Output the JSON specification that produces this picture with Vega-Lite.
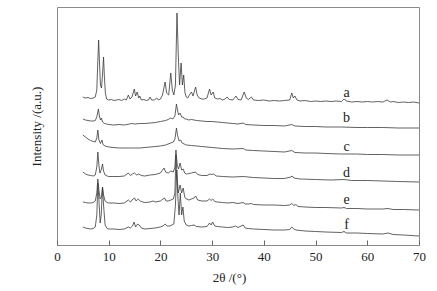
{
  "$schema": "https://vega.github.io/schema/vega-lite/v6.json",
  "width": 362,
  "height": 238,
  "autosize": "none",
  "padding": {"left": 57, "top": 7, "right": 18, "bottom": 46},
  "background": "white",
  "config": {
    "view": {"stroke": "#8a8a8a", "strokeWidth": 1},
    "font": "'Liberation Serif', 'Times New Roman', serif"
  },
  "datasets": {
    "labels": [
      {"s": "a", "x": 56, "y": 152},
      {"s": "b", "x": 56, "y": 127},
      {"s": "c", "x": 56, "y": 98},
      {"s": "d", "x": 56, "y": 72},
      {"s": "e", "x": 56, "y": 45},
      {"s": "f", "x": 56, "y": 20}
    ],
    "xrd": [
      {"s":"a","x":5.0,"y":148},{"s":"a","x":5.5,"y":147},{"s":"a","x":6.0,"y":147.5},{"s":"a","x":6.5,"y":146.5},{"s":"a","x":7.0,"y":147},{"s":"a","x":7.4,"y":148},{"s":"a","x":7.7,"y":155},{"s":"a","x":7.9,"y":185},{"s":"a","x":8.05,"y":205},{"s":"a","x":8.2,"y":185},{"s":"a","x":8.4,"y":160},{"s":"a","x":8.6,"y":157},{"s":"a","x":8.8,"y":170},{"s":"a","x":9.0,"y":188},{"s":"a","x":9.15,"y":170},{"s":"a","x":9.35,"y":152},{"s":"a","x":9.6,"y":146},{"s":"a","x":10.0,"y":145},{"s":"a","x":10.5,"y":145.5},{"s":"a","x":11.0,"y":144.5},{"s":"a","x":11.5,"y":145},{"s":"a","x":12.0,"y":145.5},{"s":"a","x":12.5,"y":144.5},{"s":"a","x":13.0,"y":146},{"s":"a","x":13.4,"y":145},{"s":"a","x":13.8,"y":150},{"s":"a","x":14.1,"y":146},{"s":"a","x":14.5,"y":148},{"s":"a","x":14.95,"y":156},{"s":"a","x":15.2,"y":149},{"s":"a","x":15.5,"y":153},{"s":"a","x":15.8,"y":147},{"s":"a","x":16.0,"y":149},{"s":"a","x":16.3,"y":145},{"s":"a","x":16.8,"y":145.5},{"s":"a","x":17.3,"y":144.5},{"s":"a","x":17.7,"y":145},{"s":"a","x":18.0,"y":148},{"s":"a","x":18.3,"y":145},{"s":"a","x":18.8,"y":145},{"s":"a","x":19.3,"y":147},{"s":"a","x":19.6,"y":145},{"s":"a","x":20.0,"y":146},{"s":"a","x":20.4,"y":150},{"s":"a","x":20.9,"y":163},{"s":"a","x":21.2,"y":152},{"s":"a","x":21.6,"y":150},{"s":"a","x":22.0,"y":172},{"s":"a","x":22.3,"y":155},{"s":"a","x":22.6,"y":150},{"s":"a","x":22.9,"y":160},{"s":"a","x":23.2,"y":232},{"s":"a","x":23.45,"y":190},{"s":"a","x":23.7,"y":160},{"s":"a","x":24.0,"y":182},{"s":"a","x":24.25,"y":160},{"s":"a","x":24.5,"y":170},{"s":"a","x":24.75,"y":152},{"s":"a","x":25.0,"y":148},{"s":"a","x":25.3,"y":147},{"s":"a","x":25.6,"y":150},{"s":"a","x":26.0,"y":153},{"s":"a","x":26.3,"y":149},{"s":"a","x":26.8,"y":158},{"s":"a","x":27.1,"y":150},{"s":"a","x":27.5,"y":147},{"s":"a","x":28.0,"y":146},{"s":"a","x":28.5,"y":146},{"s":"a","x":29.0,"y":147},{"s":"a","x":29.5,"y":156},{"s":"a","x":29.8,"y":150},{"s":"a","x":30.2,"y":153},{"s":"a","x":30.5,"y":147},{"s":"a","x":31.0,"y":146},{"s":"a","x":31.5,"y":146.5},{"s":"a","x":32.0,"y":145},{"s":"a","x":32.5,"y":146},{"s":"a","x":32.9,"y":148},{"s":"a","x":33.3,"y":145.5},{"s":"a","x":34.0,"y":145},{"s":"a","x":34.6,"y":149},{"s":"a","x":35.0,"y":145.5},{"s":"a","x":35.6,"y":145},{"s":"a","x":36.2,"y":153},{"s":"a","x":36.6,"y":147},{"s":"a","x":37.0,"y":145.5},{"s":"a","x":37.6,"y":148},{"s":"a","x":38.0,"y":145},{"s":"a","x":39,"y":144.5},{"s":"a","x":40,"y":145},{"s":"a","x":41,"y":144},{"s":"a","x":42,"y":144.5},{"s":"a","x":43,"y":144},{"s":"a","x":44,"y":144.5},{"s":"a","x":45,"y":145},{"s":"a","x":45.4,"y":152},{"s":"a","x":45.7,"y":147},{"s":"a","x":46.0,"y":149},{"s":"a","x":46.4,"y":145},{"s":"a","x":47,"y":144},{"s":"a","x":48,"y":144.5},{"s":"a","x":49,"y":143.5},{"s":"a","x":50,"y":144},{"s":"a","x":51,"y":143.5},{"s":"a","x":52,"y":144},{"s":"a","x":53,"y":143.5},{"s":"a","x":54,"y":144},{"s":"a","x":55,"y":143.5},{"s":"a","x":55.5,"y":146},{"s":"a","x":56,"y":144},{"s":"a","x":57,"y":143},{"s":"a","x":58,"y":143.5},{"s":"a","x":59,"y":143},{"s":"a","x":60,"y":143.5},{"s":"a","x":61,"y":143},{"s":"a","x":62,"y":143.5},{"s":"a","x":63,"y":143},{"s":"a","x":63.8,"y":145},{"s":"a","x":64.5,"y":143},{"s":"a","x":65,"y":143.5},{"s":"a","x":66,"y":142.5},{"s":"a","x":67,"y":143},{"s":"a","x":68,"y":142.5},{"s":"a","x":69,"y":143},{"s":"a","x":70,"y":142},

      {"s":"b","x":5.0,"y":126},{"s":"b","x":5.5,"y":125},{"s":"b","x":6.0,"y":124.5},{"s":"b","x":6.5,"y":124},{"s":"b","x":7.0,"y":124},{"s":"b","x":7.4,"y":124.5},{"s":"b","x":7.7,"y":128},{"s":"b","x":8.0,"y":136},{"s":"b","x":8.2,"y":129},{"s":"b","x":8.4,"y":125},{"s":"b","x":8.6,"y":127},{"s":"b","x":8.8,"y":123},{"s":"b","x":9.2,"y":121.5},{"s":"b","x":9.6,"y":121},{"s":"b","x":10,"y":120.5},{"s":"b","x":11,"y":120},{"s":"b","x":12,"y":120.5},{"s":"b","x":13,"y":120},{"s":"b","x":14,"y":121},{"s":"b","x":14.5,"y":121.5},{"s":"b","x":15,"y":121},{"s":"b","x":16,"y":121.5},{"s":"b","x":17,"y":121.5},{"s":"b","x":18,"y":122},{"s":"b","x":19,"y":122.5},{"s":"b","x":20,"y":123.5},{"s":"b","x":20.5,"y":124},{"s":"b","x":21,"y":124.5},{"s":"b","x":21.5,"y":125.5},{"s":"b","x":22,"y":127},{"s":"b","x":22.4,"y":126},{"s":"b","x":22.8,"y":129},{"s":"b","x":23.1,"y":141},{"s":"b","x":23.3,"y":135},{"s":"b","x":23.5,"y":130},{"s":"b","x":23.8,"y":132},{"s":"b","x":24.1,"y":128},{"s":"b","x":24.4,"y":128},{"s":"b","x":24.7,"y":126},{"s":"b","x":25.0,"y":126},{"s":"b","x":25.5,"y":125},{"s":"b","x":26,"y":125.5},{"s":"b","x":26.5,"y":125},{"s":"b","x":27,"y":124.5},{"s":"b","x":28,"y":124},{"s":"b","x":29,"y":123.5},{"s":"b","x":30,"y":123.5},{"s":"b","x":31,"y":123},{"s":"b","x":32,"y":122.5},{"s":"b","x":33,"y":122},{"s":"b","x":34,"y":121.5},{"s":"b","x":35,"y":121},{"s":"b","x":36,"y":122},{"s":"b","x":36.5,"y":120.5},{"s":"b","x":38,"y":120},{"s":"b","x":40,"y":119.5},{"s":"b","x":42,"y":119.5},{"s":"b","x":44,"y":119},{"s":"b","x":45.4,"y":120.5},{"s":"b","x":46,"y":119},{"s":"b","x":48,"y":118.5},{"s":"b","x":50,"y":118.5},{"s":"b","x":52,"y":118},{"s":"b","x":55,"y":118},{"s":"b","x":58,"y":117.5},{"s":"b","x":60,"y":117.5},{"s":"b","x":63,"y":117.5},{"s":"b","x":66,"y":117},{"s":"b","x":70,"y":117},

      {"s":"c","x":5.0,"y":110},{"s":"c","x":5.5,"y":108},{"s":"c","x":6.0,"y":106},{"s":"c","x":6.5,"y":104.5},{"s":"c","x":7.0,"y":103.5},{"s":"c","x":7.4,"y":103},{"s":"c","x":7.7,"y":107},{"s":"c","x":7.9,"y":115},{"s":"c","x":8.1,"y":105},{"s":"c","x":8.4,"y":101.5},{"s":"c","x":8.7,"y":105},{"s":"c","x":8.9,"y":100.5},{"s":"c","x":9.3,"y":99},{"s":"c","x":10,"y":98},{"s":"c","x":11,"y":97.5},{"s":"c","x":12,"y":97},{"s":"c","x":13,"y":97},{"s":"c","x":14,"y":97},{"s":"c","x":15,"y":97},{"s":"c","x":16,"y":97},{"s":"c","x":17,"y":97.5},{"s":"c","x":18,"y":98},{"s":"c","x":19,"y":98.5},{"s":"c","x":20,"y":99},{"s":"c","x":21,"y":100},{"s":"c","x":22,"y":102},{"s":"c","x":22.5,"y":103},{"s":"c","x":22.8,"y":106},{"s":"c","x":23.1,"y":117},{"s":"c","x":23.3,"y":110},{"s":"c","x":23.6,"y":104},{"s":"c","x":23.9,"y":105},{"s":"c","x":24.2,"y":102},{"s":"c","x":24.6,"y":101},{"s":"c","x":25,"y":100},{"s":"c","x":26,"y":99.5},{"s":"c","x":27,"y":99},{"s":"c","x":28,"y":98.5},{"s":"c","x":29,"y":98},{"s":"c","x":30,"y":97.5},{"s":"c","x":31,"y":97},{"s":"c","x":32,"y":96.5},{"s":"c","x":34,"y":96},{"s":"c","x":36,"y":96.5},{"s":"c","x":36.5,"y":95},{"s":"c","x":38,"y":94.5},{"s":"c","x":40,"y":94},{"s":"c","x":42,"y":93.5},{"s":"c","x":44,"y":93},{"s":"c","x":45.4,"y":94.5},{"s":"c","x":46,"y":92.5},{"s":"c","x":48,"y":92},{"s":"c","x":50,"y":92},{"s":"c","x":52,"y":91.5},{"s":"c","x":55,"y":91},{"s":"c","x":58,"y":91},{"s":"c","x":60,"y":90.5},{"s":"c","x":63,"y":90.5},{"s":"c","x":66,"y":90},{"s":"c","x":70,"y":90},

      {"s":"d","x":5.0,"y":73},{"s":"d","x":5.5,"y":71},{"s":"d","x":6,"y":70},{"s":"d","x":6.5,"y":69.5},{"s":"d","x":7.0,"y":69},{"s":"d","x":7.4,"y":70},{"s":"d","x":7.7,"y":78},{"s":"d","x":7.9,"y":93},{"s":"d","x":8.1,"y":80},{"s":"d","x":8.3,"y":72},{"s":"d","x":8.6,"y":76},{"s":"d","x":8.8,"y":81},{"s":"d","x":9.0,"y":74},{"s":"d","x":9.3,"y":70},{"s":"d","x":9.7,"y":69},{"s":"d","x":10,"y":68.5},{"s":"d","x":11,"y":68.5},{"s":"d","x":12,"y":68.5},{"s":"d","x":13,"y":69},{"s":"d","x":13.8,"y":72},{"s":"d","x":14.2,"y":69.5},{"s":"d","x":14.6,"y":71},{"s":"d","x":15,"y":72},{"s":"d","x":15.4,"y":70},{"s":"d","x":15.8,"y":71},{"s":"d","x":16.3,"y":69.5},{"s":"d","x":17,"y":69},{"s":"d","x":18,"y":70},{"s":"d","x":19,"y":70.5},{"s":"d","x":20,"y":72},{"s":"d","x":20.4,"y":75},{"s":"d","x":20.7,"y":77},{"s":"d","x":21.0,"y":73},{"s":"d","x":21.5,"y":72},{"s":"d","x":22.0,"y":74},{"s":"d","x":22.5,"y":73},{"s":"d","x":22.8,"y":78},{"s":"d","x":23.0,"y":95},{"s":"d","x":23.25,"y":80},{"s":"d","x":23.5,"y":76},{"s":"d","x":23.8,"y":82},{"s":"d","x":24.1,"y":75},{"s":"d","x":24.4,"y":76},{"s":"d","x":24.7,"y":72},{"s":"d","x":25,"y":71},{"s":"d","x":25.5,"y":71.5},{"s":"d","x":26,"y":72},{"s":"d","x":26.8,"y":73},{"s":"d","x":27.2,"y":70.5},{"s":"d","x":28,"y":69.5},{"s":"d","x":29,"y":69.5},{"s":"d","x":29.6,"y":71},{"s":"d","x":30.0,"y":70.5},{"s":"d","x":30.3,"y":71},{"s":"d","x":30.8,"y":69},{"s":"d","x":32,"y":68.5},{"s":"d","x":34,"y":68},{"s":"d","x":36,"y":68.5},{"s":"d","x":38,"y":67.5},{"s":"d","x":40,"y":67},{"s":"d","x":42,"y":66.5},{"s":"d","x":44,"y":66.5},{"s":"d","x":45.2,"y":68},{"s":"d","x":45.5,"y":69},{"s":"d","x":45.8,"y":67},{"s":"d","x":47,"y":66},{"s":"d","x":50,"y":65.5},{"s":"d","x":53,"y":65},{"s":"d","x":55.5,"y":65.5},{"s":"d","x":57,"y":64.5},{"s":"d","x":60,"y":64.5},{"s":"d","x":63,"y":64},{"s":"d","x":66,"y":63.5},{"s":"d","x":70,"y":63},

      {"s":"e","x":5.0,"y":43},{"s":"e","x":5.5,"y":42.5},{"s":"e","x":6,"y":42},{"s":"e","x":6.5,"y":42},{"s":"e","x":7.0,"y":42.5},{"s":"e","x":7.4,"y":44},{"s":"e","x":7.7,"y":52},{"s":"e","x":7.9,"y":66},{"s":"e","x":8.1,"y":55},{"s":"e","x":8.35,"y":46},{"s":"e","x":8.6,"y":48},{"s":"e","x":8.8,"y":58},{"s":"e","x":9.0,"y":50},{"s":"e","x":9.3,"y":44},{"s":"e","x":9.7,"y":42.5},{"s":"e","x":10,"y":42},{"s":"e","x":11,"y":42},{"s":"e","x":12,"y":41.5},{"s":"e","x":13,"y":42},{"s":"e","x":13.8,"y":45},{"s":"e","x":14.2,"y":43},{"s":"e","x":14.7,"y":46},{"s":"e","x":15.0,"y":47},{"s":"e","x":15.3,"y":44},{"s":"e","x":15.7,"y":46},{"s":"e","x":16.1,"y":44},{"s":"e","x":16.6,"y":43},{"s":"e","x":17,"y":42.5},{"s":"e","x":18,"y":43},{"s":"e","x":18.6,"y":44},{"s":"e","x":19,"y":43},{"s":"e","x":20,"y":44},{"s":"e","x":20.5,"y":46},{"s":"e","x":20.8,"y":47},{"s":"e","x":21.1,"y":44},{"s":"e","x":21.5,"y":44},{"s":"e","x":22,"y":45},{"s":"e","x":22.5,"y":46},{"s":"e","x":22.8,"y":52},{"s":"e","x":23.0,"y":90},{"s":"e","x":23.2,"y":70},{"s":"e","x":23.45,"y":52},{"s":"e","x":23.8,"y":60},{"s":"e","x":24.1,"y":52},{"s":"e","x":24.4,"y":57},{"s":"e","x":24.7,"y":48},{"s":"e","x":25,"y":46},{"s":"e","x":25.5,"y":45},{"s":"e","x":26,"y":46},{"s":"e","x":26.5,"y":47},{"s":"e","x":26.8,"y":49},{"s":"e","x":27.2,"y":45},{"s":"e","x":28,"y":44},{"s":"e","x":29,"y":44},{"s":"e","x":29.5,"y":46},{"s":"e","x":29.8,"y":44.5},{"s":"e","x":30.1,"y":46},{"s":"e","x":30.5,"y":43.5},{"s":"e","x":31,"y":43},{"s":"e","x":32,"y":42.5},{"s":"e","x":33,"y":42},{"s":"e","x":34,"y":42.5},{"s":"e","x":35,"y":41.5},{"s":"e","x":36,"y":42.5},{"s":"e","x":36.4,"y":41},{"s":"e","x":37,"y":41},{"s":"e","x":37.6,"y":41.5},{"s":"e","x":38,"y":40.5},{"s":"e","x":40,"y":40},{"s":"e","x":42,"y":40},{"s":"e","x":44,"y":39.5},{"s":"e","x":45,"y":40},{"s":"e","x":45.4,"y":41.5},{"s":"e","x":45.8,"y":39.5},{"s":"e","x":46.2,"y":40.5},{"s":"e","x":46.6,"y":38.5},{"s":"e","x":48,"y":38},{"s":"e","x":50,"y":37.5},{"s":"e","x":52,"y":37.5},{"s":"e","x":55,"y":37},{"s":"e","x":55.5,"y":37.5},{"s":"e","x":56,"y":36.5},{"s":"e","x":58,"y":36.5},{"s":"e","x":60,"y":36},{"s":"e","x":63,"y":36},{"s":"e","x":64,"y":36.5},{"s":"e","x":65,"y":35.5},{"s":"e","x":67,"y":35.5},{"s":"e","x":70,"y":35},

      {"s":"f","x":5.0,"y":18},{"s":"f","x":5.5,"y":17},{"s":"f","x":6,"y":16.5},{"s":"f","x":6.5,"y":16},{"s":"f","x":7.0,"y":16.5},{"s":"f","x":7.4,"y":18},{"s":"f","x":7.7,"y":30},{"s":"f","x":7.9,"y":62},{"s":"f","x":8.1,"y":45},{"s":"f","x":8.35,"y":22},{"s":"f","x":8.55,"y":30},{"s":"f","x":8.8,"y":58},{"s":"f","x":9.0,"y":40},{"s":"f","x":9.3,"y":20},{"s":"f","x":9.7,"y":16.5},{"s":"f","x":10,"y":16},{"s":"f","x":11,"y":16},{"s":"f","x":12,"y":15.5},{"s":"f","x":13,"y":16},{"s":"f","x":13.8,"y":18},{"s":"f","x":14.2,"y":17},{"s":"f","x":14.6,"y":19},{"s":"f","x":14.9,"y":23},{"s":"f","x":15.2,"y":18},{"s":"f","x":15.6,"y":21},{"s":"f","x":15.9,"y":20},{"s":"f","x":16.3,"y":17},{"s":"f","x":17,"y":16},{"s":"f","x":18,"y":16.5},{"s":"f","x":19,"y":17},{"s":"f","x":20,"y":18},{"s":"f","x":20.5,"y":19},{"s":"f","x":20.9,"y":21},{"s":"f","x":21.3,"y":19},{"s":"f","x":21.8,"y":19},{"s":"f","x":22.2,"y":20},{"s":"f","x":22.6,"y":21},{"s":"f","x":22.9,"y":40},{"s":"f","x":23.15,"y":75},{"s":"f","x":23.35,"y":50},{"s":"f","x":23.6,"y":30},{"s":"f","x":23.85,"y":52},{"s":"f","x":24.1,"y":30},{"s":"f","x":24.35,"y":38},{"s":"f","x":24.6,"y":24},{"s":"f","x":25,"y":20},{"s":"f","x":25.5,"y":19},{"s":"f","x":26,"y":19.5},{"s":"f","x":26.5,"y":20},{"s":"f","x":27,"y":18.5},{"s":"f","x":28,"y":18},{"s":"f","x":29,"y":18.5},{"s":"f","x":29.5,"y":22},{"s":"f","x":29.8,"y":20},{"s":"f","x":30.1,"y":23},{"s":"f","x":30.5,"y":19},{"s":"f","x":31,"y":18.5},{"s":"f","x":32,"y":18},{"s":"f","x":33,"y":17.5},{"s":"f","x":34,"y":18},{"s":"f","x":34.5,"y":19},{"s":"f","x":35,"y":17.5},{"s":"f","x":36,"y":20},{"s":"f","x":36.4,"y":17},{"s":"f","x":37,"y":16.5},{"s":"f","x":38,"y":16},{"s":"f","x":40,"y":15.5},{"s":"f","x":42,"y":15},{"s":"f","x":44,"y":15},{"s":"f","x":45,"y":15.5},{"s":"f","x":45.4,"y":18},{"s":"f","x":45.8,"y":16},{"s":"f","x":46.2,"y":15},{"s":"f","x":48,"y":14},{"s":"f","x":50,"y":13.5},{"s":"f","x":52,"y":13},{"s":"f","x":55,"y":12.5},{"s":"f","x":55.5,"y":13.5},{"s":"f","x":56,"y":12},{"s":"f","x":58,"y":12},{"s":"f","x":60,"y":11.5},{"s":"f","x":63,"y":11},{"s":"f","x":64,"y":12},{"s":"f","x":65,"y":10.5},{"s":"f","x":67,"y":10},{"s":"f","x":70,"y":9}
    ]
  },
  "layer": [
    {
      "data": {"name": "xrd"},
      "mark": {"type": "line", "color": "#3a3a3a", "strokeWidth": 0.8, "interpolate": "linear"},
      "encoding": {
        "x": {
          "field": "x", "type": "quantitative",
          "scale": {"domain": [0, 70], "nice": false, "zero": false},
          "axis": {
            "title": "2θ /(°)",
            "values": [0, 10, 20, 30, 40, 50, 60, 70],
            "grid": false,
            "domain": false,
            "tickSize": -5,
            "tickColor": "#666666",
            "labelFont": "'Liberation Serif', 'Times New Roman', serif",
            "labelFontSize": 13,
            "labelColor": "#222222",
            "labelPadding": 10,
            "labelFlush": false,
            "titleFont": "'Liberation Serif', 'Times New Roman', serif",
            "titleFontSize": 13,
            "titleFontWeight": "normal",
            "titleColor": "#222222",
            "titleX": 172,
            "titlePadding": 8
          }
        },
        "y": {
          "field": "y", "type": "quantitative",
          "scale": {"domain": [0, 238], "nice": false, "zero": false},
          "axis": {
            "title": "Intensity /(a.u.)",
            "labels": false,
            "ticks": false,
            "grid": false,
            "domain": false,
            "titleFont": "'Liberation Serif', 'Times New Roman', serif",
            "titleFontSize": 13,
            "titleFontWeight": "normal",
            "titleColor": "#222222",
            "titlePadding": 14
          }
        },
        "detail": {"field": "s", "type": "nominal"}
      }
    },
    {
      "data": {"name": "labels"},
      "mark": {"type": "text", "font": "'Liberation Serif', 'Times New Roman', serif", "fontSize": 14, "color": "#222222", "baseline": "middle", "align": "center"},
      "encoding": {
        "x": {"field": "x", "type": "quantitative"},
        "y": {"field": "y", "type": "quantitative"},
        "text": {"field": "s", "type": "nominal"}
      }
    }
  ]
}
